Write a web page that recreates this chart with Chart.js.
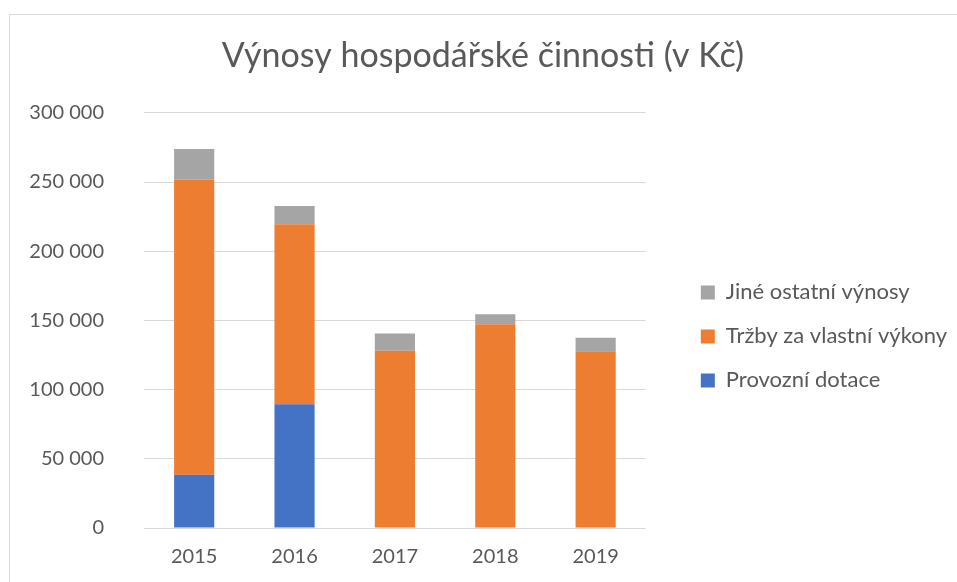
<!DOCTYPE html>
<html>
<head>
<meta charset="utf-8">
<script src="https://cdn.jsdelivr.net/npm/chart.js@4.4.0/dist/chart.umd.min.js"></script>
<style>
  html, body { margin: 0; padding: 0; background: #fff; }
  #wrap { position: relative; width: 957px; height: 582px; }
</style>
</head>
<body>
<div id="wrap"><canvas id="myChart"></canvas></div>
<script>
// data
const years = ["2015", "2016", "2017", "2018", "2019"];
const dotace = [38500, 89500, 0, 0, 0];
const trzby = [213100, 129900, 128000, 147300, 127700];
const jine = [22300, 13300, 12600, 7100, 9700];

const grey = "#595959";
const fmt = (v) => String(v).replace(/\B(?=(\d{3})+(?!\d))/g, " ");

// thin frame round the chart, like the office chart border
const frame = {
  id: "frame",
  beforeDraw(chart) {
    const c = chart.ctx;
    c.save();
    c.strokeStyle = "#d9d9d9";
    c.lineWidth = 1;
    c.beginPath();
    c.moveTo(9.5, 582);
    c.lineTo(9.5, 14.5);
    c.lineTo(957, 14.5);
    c.stroke();
    c.restore();
  },
};

const data = {
  type: "bar",
  data: {
    labels: years,
    datasets: [
      { label: "Provozní dotace", data: dotace, backgroundColor: "#4472C4" },
      { label: "Tržby za vlastní výkony", data: trzby, backgroundColor: "#ED7D31" },
      { label: "Jiné ostatní výnosy", data: jine, backgroundColor: "#A5A5A5" },
    ],
  },
  options: {
    responsive: true,
    maintainAspectRatio: false,
    animation: false,
    datasets: {
      bar: { categoryPercentage: 1, barPercentage: 0.4, borderWidth: 0 },
    },
    layout: { padding: { top: 14, left: 9, right: 0, bottom: -4 } },
    plugins: {
      tooltip: { enabled: false },
      title: {
        display: true,
        text: "Výnosy hospodářské činnosti (v Kč)",
        color: grey,
        font: { family: "Lato", size: 34, weight: "normal" },
        padding: { top: 22, bottom: 36 },
      },
      legend: {
        position: "right",
        fullSize: false,
        reverse: true,
        maxWidth: 500,
        title: { display: true, text: " ", font: { size: 20 }, padding: 4 },
        labels: {
          color: grey,
          font: { family: "Lato", size: 22 },
          boxWidth: 14,
          boxHeight: 14,
          padding: 22,
        },
      },
    },
    scales: {
      x: {
        stacked: true,
        grid: { display: false, drawTicks: false },
        border: { display: false },
        ticks: { color: grey, font: { family: "Lato", size: 20 }, padding: 17 },
      },
      y: {
        stacked: true,
        min: 0,
        max: 300000,
        border: { display: false },
        grid: { color: "#d9d9d9", drawTicks: false },
        ticks: {
          stepSize: 50000,
          color: grey,
          font: { family: "Lato", size: 20 },
          padding: 40,
          callback: (v) => fmt(v),
        },
        afterFit: (s) => { s.width = 135; },
      },
      // empty axis, only keeps a gap between the bars and the legend
      gap: {
        position: "right",
        display: true,
        grid: { display: false, drawTicks: false },
        border: { display: false },
        ticks: { display: false },
        afterFit: (s) => { s.width = 33; },
      },
    },
  },
  plugins: [frame],
};

const ctx = document.getElementById("myChart").getContext("2d");
const aChart = new Chart(ctx, data);
</script>
</body>
</html>
